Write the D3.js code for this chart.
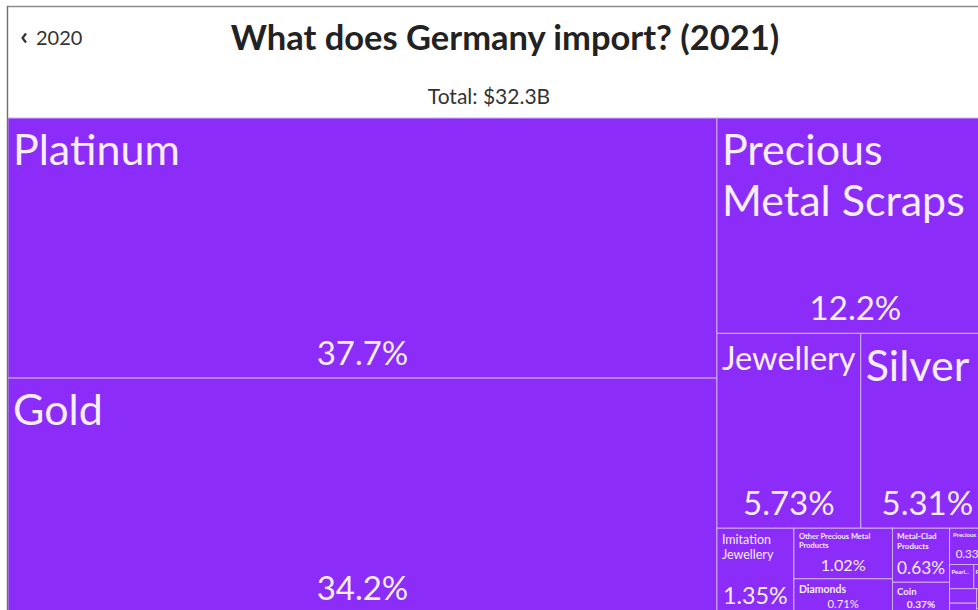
<!DOCTYPE html>
<html>
<head>
<meta charset="utf-8">
<script src="https://cdn.jsdelivr.net/npm/d3@7"></script>
<style>
  html, body { margin: 0; padding: 0; background: #fff; overflow: hidden; }
  svg { display: block; font-family: Lato, "Open Sans", sans-serif; }
</style>
</head>
<body>
<svg id="chart" width="978" height="610"></svg>
<script>
// Germany imports of precious metals and stones, 2021 (share of total, %)
const products = [
  "Platinum", "Gold", "Precious Metal Scraps", "Jewellery", "Silver",
  "Imitation Jewellery", "Other Precious Metal Products", "Diamonds",
  "Metal-Clad Products", "Coin", "Precious Stones", "Pearl Products", "Pearls",
  "Synthetic Reconstructed Jewellery Stones", "Stone Powder",
  "Gold-Clad Metals", "Silver-Clad Metals", "Platinum Clad Metals"
];
const shares = [
  37.7, 34.2, 12.2, 5.73, 5.31,
  1.35, 1.02, 0.71,
  0.63, 0.37, 0.33, 0.12, 0.10,
  0.08, 0.06,
  0.04, 0.03, 0.02
];
const titleText = "What does Germany import? (2021)";
const totalText = "Total: $32.3B";
const prevYear = "2020";

const W = 978, H = 610;
const mapX = 8, mapY = 118, mapW = 986, mapH = 496;
const cellFill = "#8b2cf9";
const cellLine = "#d2adfc";
const labelColor = "#f6edff";
const maxName = 43, maxPct = 33;

const svg = d3.select("#chart");

svg.append("rect").attr("width", W).attr("height", H).attr("fill", "#fff");

// text measuring helper
const probe = svg.append("text").attr("visibility", "hidden");
function textW(str, size, weight = 400) {
  probe.attr("font-size", size).attr("font-weight", weight).text(str);
  return probe.node().getComputedTextLength();
}
function wrap(str, size, maxW, weight) {
  const words = str.split(" ");
  const lines = [];
  let cur = "";
  for (const w of words) {
    const t = cur ? cur + " " + w : w;
    if (textW(t, size, weight) <= maxW) { cur = t; continue; }
    if (!cur) return null;
    lines.push(cur);
    if (textW(w, size, weight) > maxW) return null;
    cur = w;
  }
  if (cur) lines.push(cur);
  return lines;
}
function truncate(str, size, maxW, weight) {
  if (textW(str, size, weight) <= maxW) return str;
  let s = str;
  while (s.length > 1 && textW(s.trimEnd() + "...", size, weight) > maxW) s = s.slice(0, -1);
  return s.trimEnd() + "...";
}

// treemap layout
const root = d3.hierarchy({ children: products.map((name, i) => ({ name, share: shares[i] })) })
  .sum(d => d.share || 0)
  .sort((a, b) => b.value - a.value);

d3.treemap()
  .size([mapW, mapH])
  .tile(d3.treemapSquarify)(root);

const fmt = d3.format(".3~r");

const map = svg.append("g").attr("transform", `translate(${mapX},${mapY})`);

const cells = map.selectAll("g.cell")
  .data(root.leaves())
  .join("g")
  .attr("class", "cell")
  .attr("transform", d => `translate(${d.x0},${d.y0})`);

cells.append("rect")
  .attr("width", d => d.x1 - d.x0)
  .attr("height", d => d.y1 - d.y0)
  .attr("fill", cellFill)
  .attr("stroke", cellLine)
  .attr("stroke-width", 1);

cells.each(function (d) {
  const w = d.x1 - d.x0, h = d.y1 - d.y0;
  if (w < 16 || h < 20) return;
  const g = d3.select(this);
  const pad = Math.min(5, w * 0.08);
  const avail = w - 2 * pad;
  const limit = h < 120 ? 0.3 * h : 0.45 * h;

  // product name, wrapped and shrunk to fit
  let size = null, lines = null, weight = 400;
  for (let s = maxName; s >= 6; s -= 0.5) {
    const wt = s < 11 ? 700 : 400;
    const ls = wrap(d.data.name, s, avail, wt);
    if (ls && ls.length * s <= limit) { size = s; lines = ls; weight = wt; break; }
  }
  if (!size) { size = 6; weight = 700; lines = [truncate(d.data.name, 6, w - 2 * pad, 700)]; }

  const name = g.append("text")
    .attr("fill", labelColor)
    .attr("font-size", size)
    .attr("font-weight", weight)
    .attr("x", pad);
  lines.forEach((ln, i) => {
    name.append("tspan")
      .attr("x", pad)
      .attr("y", 3 + size * 1.03 + i * size * 1.19)
      .text(ln);
  });

  // share of total
  const pctStr = fmt(d.data.share) + "%";
  const wAt10 = textW(pctStr, 10);
  const ps = Math.min(maxPct, 0.32 * h, 10 * 0.84 * w / wAt10);
  if (ps >= 8) {
    g.append("text")
      .attr("fill", labelColor)
      .attr("font-size", ps)
      .attr("font-weight", ps < 11 ? 700 : 400)
      .attr("text-anchor", "middle")
      .attr("x", w / 2)
      .attr("y", h - 0.35 * ps - 2)
      .text(pctStr);
  }
});

// header panel
svg.append("line")
  .attr("x1", 7).attr("x2", W).attr("y1", 6.5).attr("y2", 6.5)
  .attr("stroke", "#8c8c8c").attr("stroke-width", 1.6);
svg.append("line")
  .attr("x1", 7.5).attr("x2", 7.5).attr("y1", 6).attr("y2", H)
  .attr("stroke", "#6e6e6e").attr("stroke-width", 1.4);

// back-to-previous-year control
svg.append("path")
  .attr("d", "M26,33.5 L22.5,38 L26,42.5")
  .attr("fill", "none")
  .attr("stroke", "#333")
  .attr("stroke-width", 2.2)
  .attr("stroke-linejoin", "round");
svg.append("text")
  .attr("x", 36).attr("y", 45)
  .attr("font-size", 20).attr("fill", "#333")
  .text(prevYear);

svg.append("text")
  .attr("x", 505).attr("y", 50)
  .attr("text-anchor", "middle")
  .attr("font-size", 34.5).attr("font-weight", 700).attr("fill", "#222")
  .text(titleText);

svg.append("text")
  .attr("x", 489).attr("y", 104)
  .attr("text-anchor", "middle")
  .attr("font-size", 21).attr("fill", "#333")
  .text(totalText);

probe.remove();
</script>
</body>
</html>
